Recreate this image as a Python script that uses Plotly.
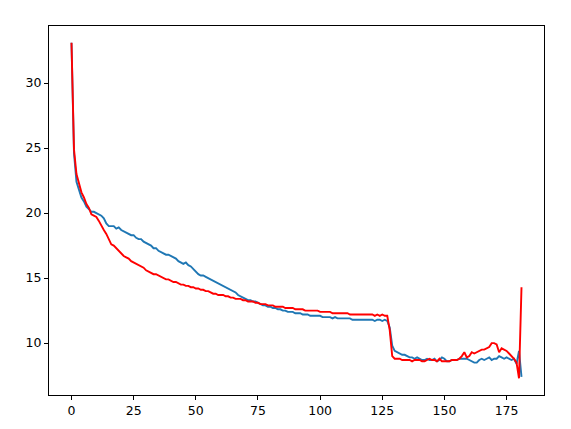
import plotly.graph_objects as go

x_values = list(range(182))

blue_values = [
    33.1, 24.6, 22.4, 21.7, 21.2, 20.9, 20.5, 20.3, 20.1, 20.1,
    20.0, 19.9, 19.8, 19.6, 19.2, 19.0, 19.0, 19.0, 18.8, 18.9,
    18.7, 18.6, 18.5, 18.4, 18.3, 18.3, 18.1, 18.0, 18.0, 17.8,
    17.7, 17.6, 17.5, 17.3, 17.3, 17.1, 17.0, 16.9, 16.8, 16.8,
    16.7, 16.6, 16.5, 16.3, 16.2, 16.1, 16.2, 16.0, 15.9, 15.7,
    15.5, 15.3, 15.2, 15.2, 15.1, 15.0, 14.9, 14.8, 14.7, 14.6,
    14.5, 14.4, 14.3, 14.2, 14.1, 14.0, 13.9, 13.7, 13.6, 13.5,
    13.4, 13.3, 13.3, 13.2, 13.2, 13.1, 13.0, 12.9, 12.9, 12.8,
    12.8, 12.7, 12.7, 12.6, 12.6, 12.5, 12.5, 12.4, 12.4, 12.4,
    12.3, 12.3, 12.3, 12.2, 12.2, 12.2, 12.1, 12.1, 12.1, 12.1,
    12.1, 12.0, 12.0, 12.0, 12.0, 11.9, 12.0, 11.9, 11.9, 11.9,
    11.9, 11.9, 11.9, 11.8, 11.8, 11.8, 11.8, 11.8, 11.8, 11.8,
    11.8, 11.8, 11.7, 11.8, 11.8, 11.7, 11.8, 11.7, 11.2, 9.8,
    9.4, 9.3, 9.2, 9.1, 9.1, 9.0, 8.9, 8.9, 8.8, 8.9,
    8.8, 8.7, 8.7, 8.8, 8.7, 8.7, 8.8, 8.6, 8.7, 8.9,
    8.8, 8.6, 8.6, 8.7, 8.7, 8.7, 8.8, 8.8, 8.8, 8.8,
    8.7, 8.6, 8.5, 8.5, 8.7, 8.8, 8.7, 8.8, 8.9, 8.7,
    8.8, 8.8, 9.0, 8.9, 8.8, 8.9, 8.8, 8.7, 8.8, 8.4,
    9.4, 7.4,
]

red_values = [
    33.1, 24.9, 23.0, 22.2, 21.6, 21.2, 20.7, 20.4, 19.9, 19.8,
    19.7, 19.4, 19.0, 18.7, 18.4, 18.0, 17.6, 17.5, 17.3, 17.1,
    16.9, 16.7, 16.6, 16.5, 16.3, 16.2, 16.1, 16.0, 15.9, 15.8,
    15.6, 15.5, 15.4, 15.3, 15.3, 15.2, 15.1, 15.0, 14.9, 14.9,
    14.8, 14.7, 14.7, 14.6, 14.5, 14.5, 14.4, 14.4, 14.3, 14.3,
    14.2, 14.2, 14.1, 14.1, 14.0, 14.0, 13.9, 13.8, 13.8, 13.7,
    13.7, 13.7, 13.6, 13.6, 13.5, 13.5, 13.4, 13.4, 13.4, 13.3,
    13.3, 13.2, 13.2, 13.2, 13.1, 13.1, 13.0, 13.0, 13.0, 12.9,
    12.9, 12.9, 12.8, 12.8, 12.8, 12.8, 12.7, 12.7, 12.7, 12.7,
    12.6, 12.6, 12.6, 12.6, 12.5, 12.5, 12.5, 12.5, 12.5, 12.5,
    12.4, 12.4, 12.4, 12.4, 12.4, 12.3, 12.3, 12.3, 12.3, 12.3,
    12.3, 12.3, 12.2, 12.2, 12.2, 12.2, 12.2, 12.2, 12.2, 12.2,
    12.2, 12.2, 12.1, 12.2, 12.1, 12.2, 12.1, 12.1, 11.0, 9.0,
    8.8, 8.8, 8.8, 8.7, 8.7, 8.7, 8.7, 8.6, 8.7, 8.7,
    8.7, 8.6, 8.6, 8.7, 8.8, 8.7, 8.7, 8.6, 8.8, 8.6,
    8.6, 8.6, 8.6, 8.7, 8.7, 8.7, 8.8, 9.0, 9.3, 8.9,
    9.0, 9.3, 9.2, 9.3, 9.4, 9.5, 9.5, 9.6, 9.7, 10.0,
    10.0, 9.9, 9.3, 9.6, 9.5, 9.4, 9.2, 9.0, 8.8, 8.5,
    7.3, 14.3,
]

x_tick_values = [0, 25, 50, 75, 100, 125, 150, 175]
y_tick_values = [10, 15, 20, 25, 30]

fig = go.Figure()
fig.add_trace(go.Scatter(x=x_values, y=blue_values, mode="lines",
                         line=dict(color="#1f77b4", width=1.9), showlegend=False))
fig.add_trace(go.Scatter(x=x_values, y=red_values, mode="lines",
                         line=dict(color="red", width=1.9), showlegend=False))

xmin, xmax = min(x_values), max(x_values)
ymin = min(min(blue_values), min(red_values))
ymax = max(max(blue_values), max(red_values))
xpad = (xmax - xmin) * 0.05
ypad = (ymax - ymin) * 0.05

axis_common = dict(
    showline=True, mirror=True, linecolor="black", linewidth=1,
    ticks="outside", ticklen=4, tickwidth=1, tickcolor="black",
    showgrid=False, zeroline=False,
    tickfont=dict(family="DejaVu Sans", size=12.5, color="black"),
)

fig.update_layout(
    width=571, height=429,
    margin=dict(l=41, r=35, t=18, b=42),
    paper_bgcolor="white", plot_bgcolor="white",
    xaxis=dict(range=[xmin - xpad, xmax + xpad], tickvals=x_tick_values, **axis_common),
    yaxis=dict(range=[ymin - ypad, ymax + ypad], tickvals=y_tick_values, **axis_common),
)

fig.write_html("out.html")
